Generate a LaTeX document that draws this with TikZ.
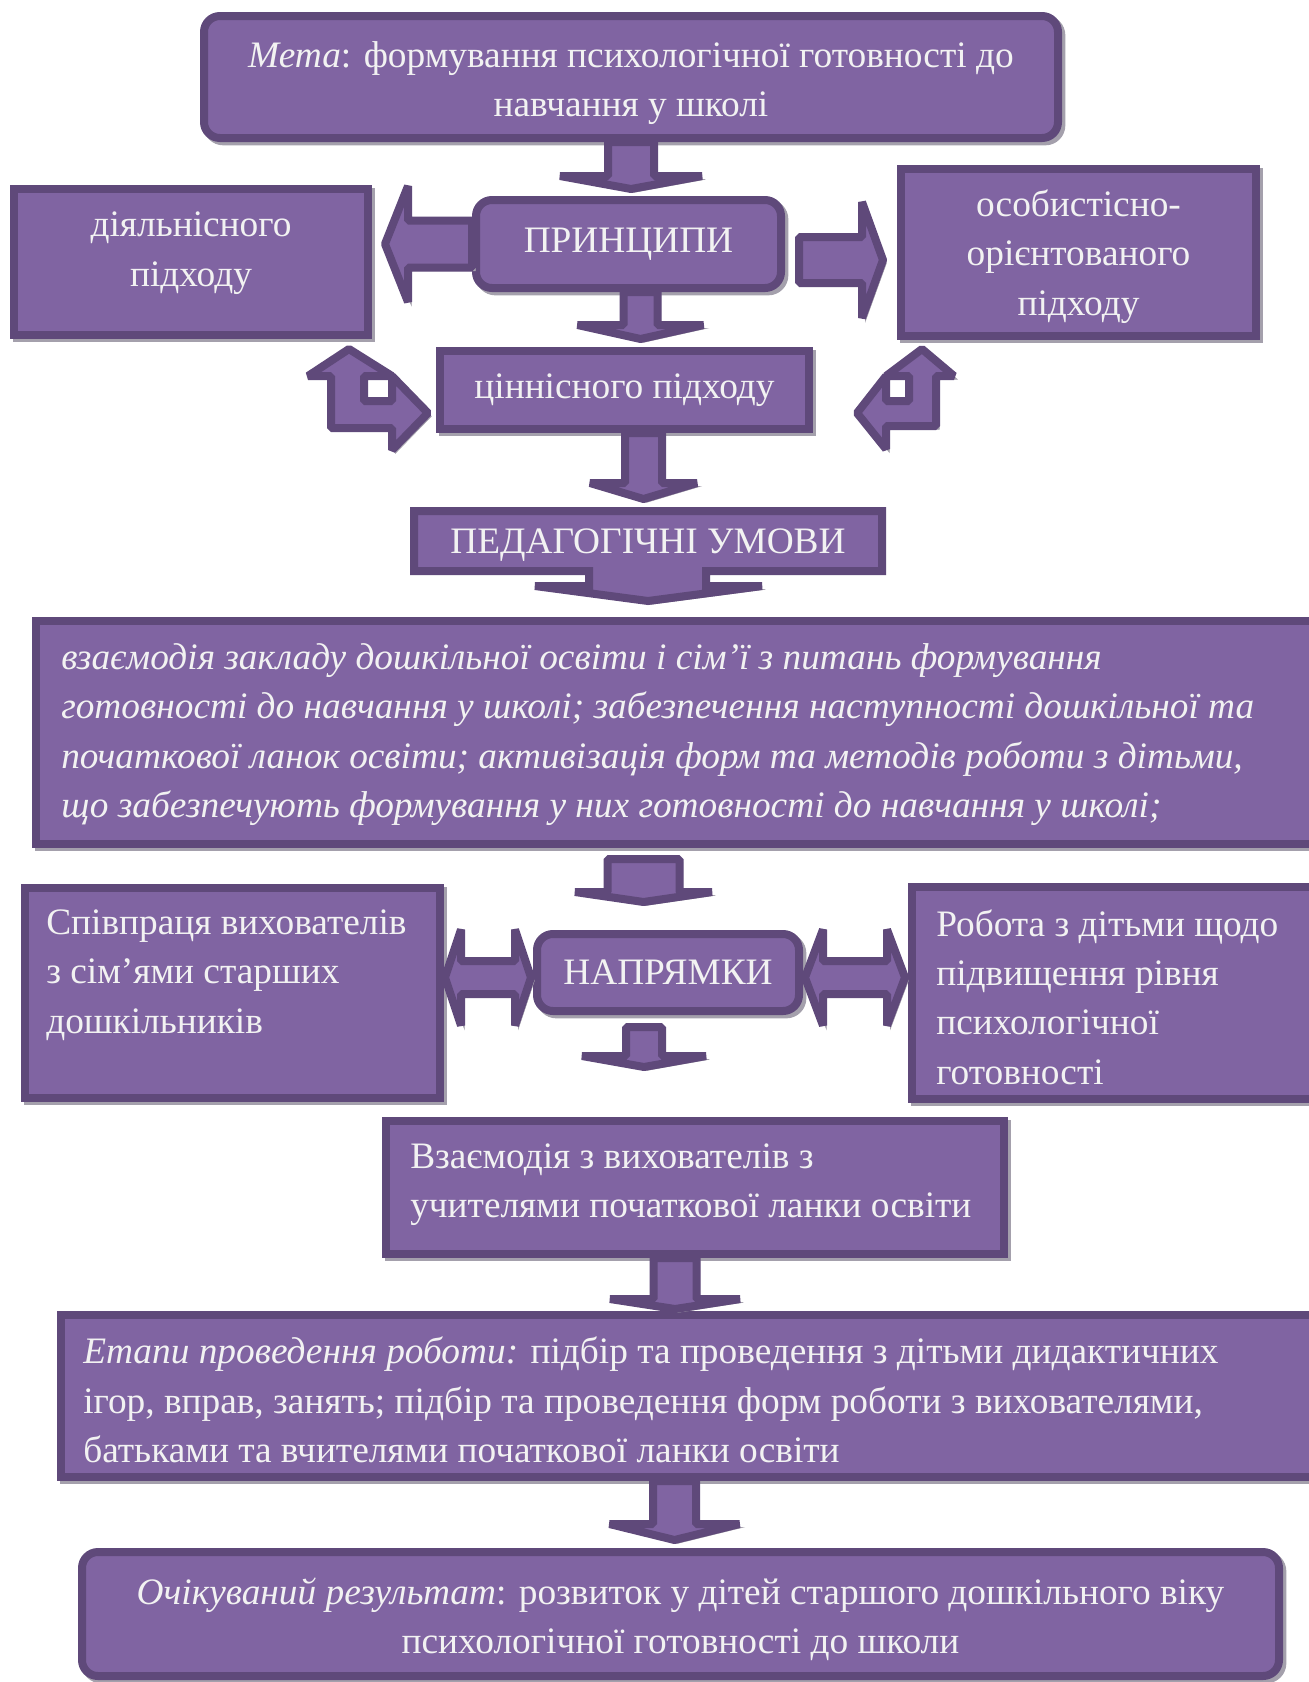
\documentclass[tikz,border=0pt]{standalone}
\usepackage{fontspec}
\setmainfont{Liberation Serif}
\usetikzlibrary{calc,shadows,backgrounds}

\definecolor{boxfill}{RGB}{128,100,162}
\definecolor{boxline}{RGB}{95,73,122}
\definecolor{boxshade}{RGB}{164,160,172}
\definecolor{boxtext}{RGB}{242,242,242}

\tikzset{
  shade/.style={drop shadow={shadow xshift=2.5pt, shadow yshift=-2.5pt, opacity=1, fill=boxshade, draw=boxshade}},
  box/.style={draw=boxline, fill=boxfill, line width=6pt, miter limit=3, text=boxtext, inner sep=0pt, align=center, font=\fontsize{28pt}{37pt}\selectfont, shade},
  roundbox/.style={box, rounded corners=12pt},
  boxsize/.style 2 args={minimum width=#1*0.75pt, minimum height=#2*0.75pt},
  txt/.style={text=boxtext, inner sep=0pt, align=left, font=\fontsize{28pt}{37pt}\selectfont},
  itxt/.style={txt, font=\fontsize{28pt}{37pt}\selectfont\itshape},
  blockarrow/.style={draw=boxline, fill=boxfill, line width=6pt, line join=bevel, shade}
}

% block arrow: tail, tip, shaft half-width, head half-width, head length (px)
\newcommand{\blockarrow}[5]{%
  \coordinate (ba) at ($(#2)!#5*0.75pt!(#1)$);
  \draw[blockarrow] ($(#1)!#3*0.75pt!90:(#2)$) -- ($(ba)!#3*0.75pt!90:(#2)$) -- ($(ba)!#4*0.75pt!90:(#2)$) -- (#2)
    -- ($(ba)!#4*0.75pt!-90:(#2)$) -- ($(ba)!#3*0.75pt!-90:(#2)$) -- ($(#1)!#3*0.75pt!-90:(#2)$) -- cycle;}
% double block arrow: tip, tip, shaft half-width, head half-width, head length (px)
\newcommand{\blockarrowboth}[5]{%
  \coordinate (ba1) at ($(#1)!#5*0.75pt!(#2)$);
  \coordinate (ba2) at ($(#2)!#5*0.75pt!(#1)$);
  \draw[blockarrow] (#1) -- ($(ba1)!#4*0.75pt!90:(#2)$) -- ($(ba1)!#3*0.75pt!90:(#2)$) -- ($(ba2)!#3*0.75pt!-90:(#1)$)
    -- ($(ba2)!#4*0.75pt!-90:(#1)$) -- (#2) -- ($(ba2)!#4*0.75pt!90:(#1)$) -- ($(ba2)!#3*0.75pt!90:(#1)$)
    -- ($(ba1)!#3*0.75pt!-90:(#2)$) -- ($(ba1)!#4*0.75pt!-90:(#2)$) -- cycle;}

\begin{document}
\begin{tikzpicture}[x=0.75pt,y=0.75pt,yscale=-1,xscale=1]
\useasboundingbox (0,0) rectangle (1309,1682);
\begin{scope}[on background layer]
\fill[white] (0,0) rectangle (1309,1682);
\end{scope}
\clip (0,0) rectangle (1309,1682);

% goal and principles
\node[roundbox, boxsize={854}{122}] (meta) at (631,77) {};
\node[txt, align=center] (metatxt) at ($(meta)+(0,6)$) {\textit{Мета}: формування психологічної готовності до\\навчання у школі};
\node[box, boxsize={354}{146}] (act) at (191,262) {};
\node[txt, align=center] (acttxt) at ($(act)+(0,-9)$) {діяльнісного\\підходу};
\node[roundbox, boxsize={305}{88}] (princ) at (628.5,244) {ПРИНЦИПИ};
\node[box, boxsize={355}{167}] (pers) at (1078.5,252.5) {};
\node[txt, align=center] (perstxt) at ($(pers)+(0,4)$) {особистісно-\\орієнтованого\\підходу};
\node[box, boxsize={369}{78}] (cin) at (624.5,390) {ціннісного підходу};

% conditions
\node[boxsize={468}{60}, outer sep=0pt, inner sep=0pt] (ped) at (648,541) {};
\begin{scope}[on background layer]
\draw[box] (ped.north west) -- (ped.north east) -- (ped.south east) -- ($(ped.south)+(58,0)$) -- ($(ped.south)+(58,15)$)
  -- ($(ped.south)+(114,15)$) -- ($(ped.south)+(0,30)$) -- ($(ped.south)+(-113,15)$) -- ($(ped.south)+(-59,15)$)
  -- ($(ped.south)+(-59,0)$) -- (ped.south west) -- cycle;
\end{scope}
\node[txt] (pedtxt) at ($(ped)+(0,4)$) {ПЕДАГОГІЧНІ УМОВИ};
\node[box, boxsize={1285}{223}] (cond) at (678.5,732.5) {};
\node[itxt, anchor=west] (condtxt) at ($(cond.west)+(29,2)$) {взаємодія закладу дошкільної освіти і сім’ї з питань формування\\готовності до навчання у школі; забезпечення наступності дошкільної та\\початкової ланок освіти; активізація форм та методів роботи з дітьми,\\що забезпечують формування у них готовності до навчання у школі;};

% directions
\node[box, boxsize={415}{210}] (fam) at (232.5,993) {};
\node[txt, anchor=west] (famtxt) at ($(fam.west)+(25,-18)$) {Співпраця вихователів\\з сім’ями старших\\дошкільників};
\node[roundbox, boxsize={262}{77}] (napr) at (668,972.5) {НАПРЯМКИ};
\node[box, boxsize={404}{212}] (kids) at (1114,993) {};
\node[txt, anchor=west] (kidstxt) at ($(kids.west)+(28,4)$) {Робота з дітьми щодо\\підвищення рівня\\психологічної\\готовності};
\node[box, boxsize={618}{133}] (teach) at (695,1187.5) {};
\node[txt, anchor=west] (teachtxt) at ($(teach.west)+(28,-3)$) {Взаємодія з вихователів з\\учителями початкової ланки освіти};

% stages and result
\node[box, boxsize={1255}{162}] (stages) at (688.5,1396) {};
\node[txt, anchor=west] (stagestxt) at ($(stages.west)+(26,4)$) {\textit{Етапи проведення роботи:} підбір та проведення з дітьми дидактичних\\ігор, вправ, занять; підбір та проведення форм роботи з вихователями,\\батьками та вчителями початкової ланки освіти};
\node[roundbox, boxsize={1197}{124}] (result) at (680.5,1614) {};
\node[txt, align=center] (resulttxt) at ($(result)+(0,5)$) {\textit{Очікуваний результат}: розвиток у дітей старшого дошкільного віку\\психологічної готовності до школи};

% arrows
\coordinate (a1) at ($(meta.south |- princ.north)+(0,-7)$);
\blockarrow{meta.south}{a1}{23}{71}{13}
\coordinate (a2) at ($(princ.west -| act.east)+(13,0)$);
\blockarrow{princ.west}{a2}{23.5}{58}{23}
\coordinate (a3s) at ($(princ.east)+(14,16)$);
\coordinate (a3) at ($(a3s -| pers.west)+(-14,0)$);
\blockarrow{a3s}{a3}{23}{58}{21}
\coordinate (a4s) at ($(princ.south)+(12,0)$);
\coordinate (a4) at ($(a4s |- cin.north)+(0,-8)$);
\blockarrow{a4s}{a4}{17}{63}{14}
\coordinate (a5s) at ($(cin.south)+(19,0)$);
\coordinate (a5) at ($(a5s |- ped.north)+(0,-12)$);
\blockarrow{a5s}{a5}{18.5}{53.5}{16}
\coordinate (a6s) at ($(cond.south)+(-35,11)$);
\coordinate (a6) at ($(a6s |- napr.north)+(0,-28)$);
\blockarrow{a6s}{a6}{36}{68.5}{10}
\coordinate (a7s) at ($(napr.south)+(-24,12)$);
\coordinate (a7) at ($(a7s |- teach.north)+(0,-50)$);
\blockarrow{a7s}{a7}{18}{62}{11}
\coordinate (a8s) at ($(teach.south)+(-20,0)$);
\coordinate (a8) at ($(a8s |- stages.north)+(0,-2)$);
\blockarrow{a8s}{a8}{21.5}{65}{10}
\coordinate (a9s) at ($(stages.south)+(-14,0)$);
\coordinate (a9) at ($(a9s |- result.north)+(0,-8)$);
\blockarrow{a9s}{a9}{21.5}{65}{16}

% double arrows at directions
\coordinate (d1) at ($(napr.west)+(-2,5)$);
\coordinate (d2) at ($(d1 -| fam.east)+(1,0)$);
\blockarrowboth{d2}{d1}{16.5}{48}{16}
\coordinate (d3) at ($(napr.east)+(2,5)$);
\coordinate (d4) at ($(d3 -| kids.west)+(-3,0)$);
\blockarrowboth{d3}{d4}{16.5}{48}{18}

% bent arrows round the value approach
\coordinate (bl) at ($(cin.west)+(-89,24)$);
\draw[blockarrow, shift={(bl)}] (2,-65) -- (45,-38) -- (17,-38) -- (17,-13) -- (45,-13) -- (45,-38) -- (81,-1)
  -- (45,36) -- (45,14) -- (-16,14) -- (-16,-38) -- (-39,-38) -- cycle;
\coordinate (br) at ($(cin.east)+(109,24)$);
\draw[blockarrow, shift={(br)}] (0,-65) -- (32,-38) -- (14,-38) -- (14,12) -- (-36,12) -- (-36,35) -- (-65,-1)
  -- (-36,-38) -- (-36,-13) -- (-13,-13) -- (-13,-38) -- (-36,-38) -- cycle;

\end{tikzpicture}
\end{document}
